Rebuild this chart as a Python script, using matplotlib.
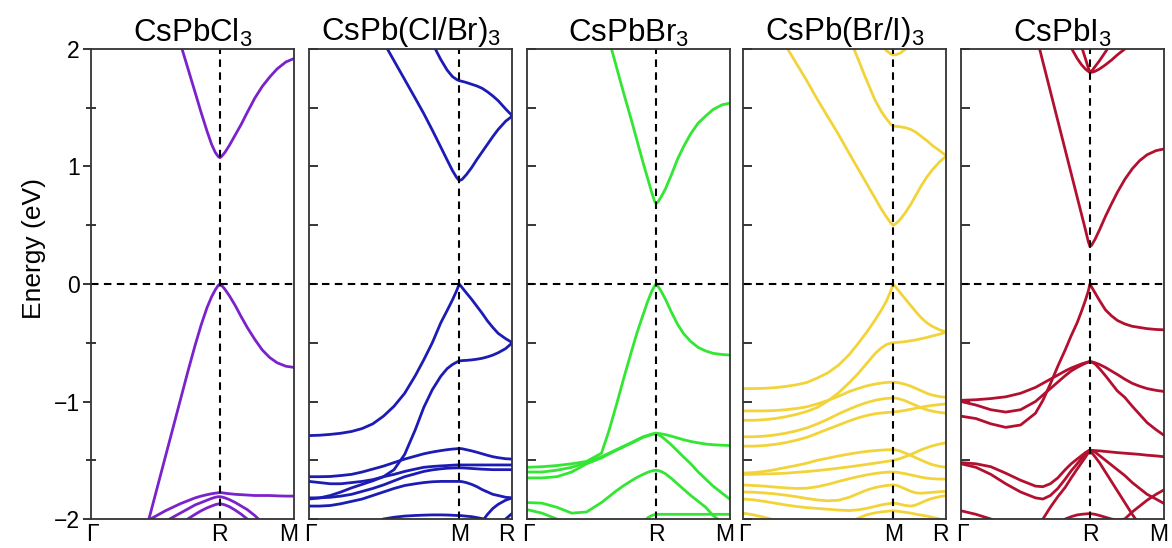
import matplotlib.pyplot as plt
from matplotlib.ticker import MultipleLocator
from matplotlib.transforms import ScaledTranslation

plt.rcParams['font.family'] = ['Liberation Sans', 'DejaVu Sans']
plt.rcParams['mathtext.fontset'] = 'custom'
plt.rcParams['mathtext.rm'] = 'Liberation Sans'

# k-path distances: cubic Γ-R-M (R at index 15), tetragonal Γ-M-R (M at index 17)
k_cubic = [0, 0.1, 0.2, 0.3, 0.4, 0.5, 0.55, 0.6, 0.65, 0.7, 0.74, 0.78, 0.81, 0.835,
           0.855, 0.866, 0.877, 0.9, 0.93, 0.97, 1.01, 1.05, 1.1, 1.15, 1.2, 1.25, 1.31, 1.366]
k_tetra = [0, 0.05, 0.1, 0.15, 0.2, 0.25, 0.3, 0.35, 0.4, 0.45, 0.5, 0.54, 0.58, 0.62,
           0.65, 0.675, 0.695, 0.707, 0.72, 0.74, 0.765, 0.79, 0.815, 0.84, 0.865, 0.89, 0.925, 0.957]

# CsPbCl3 bands (eV)
cl_cb = [4.4, 4.1, 3.75, 3.35, 2.9, 2.47, 2.26, 2.05, 1.84, 1.63, 1.46, 1.30, 1.19, 1.12, 1.085, 1.075, 1.085, 1.12, 1.18, 1.27, 1.36, 1.46, 1.58, 1.68, 1.76, 1.83, 1.89, 1.92]
cl_vb = [-3.4, -3.2, -2.9, -2.42, -1.95, -1.47, -1.23, -0.99, -0.75, -0.52, -0.35, -0.2, -0.11, -0.05, -0.012, 0.0, -0.01, -0.045, -0.10, -0.185, -0.28, -0.37, -0.47, -0.56, -0.625, -0.67, -0.70, -0.71]
cl_a = [-3.0, -2.9, -2.7, -2.4, -2.0, -1.93, -1.90, -1.87, -1.845, -1.82, -1.805, -1.793, -1.785, -1.78, -1.777, -1.775, -1.776, -1.78, -1.785, -1.79, -1.793, -1.796, -1.80, -1.80, -1.80, -1.803, -1.805, -1.805]
cl_b = [-3.0, -2.9, -2.7, -2.5, -2.2, -2.02, -1.985, -1.95, -1.915, -1.88, -1.86, -1.84, -1.825, -1.815, -1.81, -1.81, -1.812, -1.82, -1.835, -1.86, -1.89, -1.92, -1.97, -2.03, -2.08, -2.14, -2.2, -2.3]
cl_c = [-3.0, -2.9, -2.8, -2.6, -2.4, -2.2, -2.12, -2.05, -2.0, -1.96, -1.93, -1.905, -1.89, -1.878, -1.872, -1.87, -1.872, -1.88, -1.895, -1.925, -1.96, -2.0, -2.06, -2.12, -2.2, -2.3, -2.4, -2.5]

# CsPb(Cl/Br)3 bands (eV)
cb_cb1 = [3.18, 3.02, 2.86, 2.7, 2.54, 2.38, 2.22, 2.06, 1.90, 1.74, 1.58, 1.45, 1.31, 1.165, 1.055, 0.965, 0.905, 0.88, 0.89, 0.93, 0.99, 1.06, 1.125, 1.19, 1.255, 1.315, 1.385, 1.43]
cb_cb2 = [3.7, 3.65, 3.6, 3.5, 3.4, 3.3, 3.15, 3.0, 2.75, 2.53, 2.35, 2.21, 2.05, 1.91, 1.82, 1.765, 1.74, 1.73, 1.725, 1.715, 1.70, 1.685, 1.665, 1.635, 1.60, 1.56, 1.49, 1.43]
cb_vb1 = [-1.29, -1.287, -1.28, -1.27, -1.255, -1.23, -1.19, -1.125, -1.04, -0.93, -0.78, -0.645, -0.50, -0.33, -0.225, -0.135, -0.055, 0.0, -0.03, -0.075, -0.13, -0.19, -0.25, -0.315, -0.37, -0.42, -0.465, -0.50]
cb_vb2 = [-1.83, -1.82, -1.80, -1.77, -1.735, -1.705, -1.675, -1.64, -1.58, -1.45, -1.24, -1.05, -0.90, -0.785, -0.72, -0.685, -0.665, -0.655, -0.652, -0.65, -0.646, -0.64, -0.632, -0.62, -0.605, -0.585, -0.55, -0.50]
cb_c1 = [-1.64, -1.64, -1.638, -1.63, -1.62, -1.60, -1.575, -1.55, -1.52, -1.49, -1.465, -1.445, -1.43, -1.418, -1.41, -1.405, -1.402, -1.40, -1.402, -1.41, -1.42, -1.432, -1.445, -1.458, -1.47, -1.478, -1.487, -1.49]
cb_c2 = [-1.68, -1.69, -1.70, -1.70, -1.69, -1.68, -1.665, -1.64, -1.62, -1.595, -1.575, -1.56, -1.553, -1.548, -1.545, -1.542, -1.54, -1.54, -1.54, -1.54, -1.54, -1.54, -1.54, -1.54, -1.54, -1.54, -1.54, -1.54]
cb_c3 = [-1.82, -1.82, -1.815, -1.805, -1.79, -1.765, -1.74, -1.71, -1.675, -1.64, -1.615, -1.595, -1.582, -1.573, -1.568, -1.566, -1.565, -1.565, -1.565, -1.567, -1.57, -1.573, -1.576, -1.578, -1.58, -1.58, -1.58, -1.58]
cb_c4 = [-1.89, -1.89, -1.885, -1.87, -1.85, -1.83, -1.80, -1.77, -1.74, -1.715, -1.70, -1.69, -1.683, -1.68, -1.68, -1.68, -1.68, -1.68, -1.682, -1.69, -1.705, -1.725, -1.75, -1.77, -1.79, -1.80, -1.815, -1.82]
cb_c5 = [-2.6, -2.6, -2.6, -2.6, -2.6, -2.6, -2.6, -2.6, -2.6, -2.6, -2.6, -2.6, -2.6, -2.6, -2.6, -2.6, -2.6, -2.6, -2.5, -2.35, -2.2, -2.1, -2.02, -1.96, -1.91, -1.875, -1.84, -1.82]
cb_c6 = [-2.4, -2.35, -2.3, -2.25, -2.17, -2.1, -2.04, -2.0, -1.985, -1.975, -1.97, -1.967, -1.965, -1.965, -1.966, -1.968, -1.97, -1.97, -1.972, -1.976, -1.98, -1.988, -1.997, -2.01, -2.02, -2.04, -2.07, -2.1]
cb_c7 = [-2.6, -2.6, -2.6, -2.6, -2.6, -2.6, -2.6, -2.6, -2.6, -2.6, -2.6, -2.6, -2.6, -2.6, -2.6, -2.6, -2.6, -2.6, -2.6, -2.6, -2.5, -2.4, -2.3, -2.15, -2.1, -2.05, -2.0, -1.95]

# CsPbBr3 bands (eV)
br_cb = [4.6, 4.3, 3.9, 3.4, 2.77, 2.31, 2.08, 1.85, 1.62, 1.40, 1.215, 1.03, 0.90, 0.79, 0.71, 0.685, 0.695, 0.74, 0.81, 0.93, 1.06, 1.165, 1.28, 1.37, 1.43, 1.485, 1.525, 1.54]
br_vb = [-1.56, -1.555, -1.545, -1.53, -1.51, -1.44, -1.25, -1.03, -0.80, -0.58, -0.41, -0.26, -0.15, -0.07, -0.02, 0.0, -0.015, -0.06, -0.13, -0.24, -0.34, -0.42, -0.49, -0.54, -0.57, -0.59, -0.60, -0.605]
br_b2 = [-1.60, -1.60, -1.585, -1.56, -1.52, -1.47, -1.44, -1.41, -1.38, -1.35, -1.325, -1.30, -1.288, -1.278, -1.272, -1.27, -1.271, -1.275, -1.282, -1.295, -1.31, -1.325, -1.34, -1.352, -1.362, -1.368, -1.372, -1.375]
br_b3 = [-1.65, -1.65, -1.64, -1.60, -1.53, -1.48, -1.447, -1.415, -1.385, -1.355, -1.33, -1.305, -1.293, -1.283, -1.277, -1.275, -1.278, -1.295, -1.325, -1.37, -1.42, -1.47, -1.53, -1.60, -1.66, -1.72, -1.78, -1.835]
br_b4 = [-1.86, -1.865, -1.90, -1.95, -1.94, -1.86, -1.81, -1.76, -1.715, -1.675, -1.645, -1.62, -1.603, -1.592, -1.587, -1.585, -1.587, -1.595, -1.615, -1.655, -1.70, -1.745, -1.80, -1.85, -1.90, -1.97, -2.03, -2.09]
br_b5 = [-3.0, -3.0, -3.0, -3.0, -2.9, -2.7, -2.55, -2.45, -2.3, -2.2, -2.1, -2.03, -1.99, -1.972, -1.963, -1.96, -1.96, -1.96, -1.96, -1.96, -1.96, -1.96, -1.96, -1.96, -1.96, -1.96, -1.96, -1.96]
br_b6 = [-1.92, -1.95, -2.0, -2.1, -2.2, -2.3, -2.35, -2.4, -2.45, -2.5, -2.55, -2.6, -2.65, -2.7, -2.75, -2.8, -2.8, -2.8, -2.8, -2.8, -2.8, -2.8, -2.8, -2.8, -2.8, -2.8, -2.8, -2.8]

# CsPb(Br/I)3 bands (eV)
bi_cb1 = [2.62, 2.48, 2.33, 2.18, 2.03, 1.88, 1.73, 1.57, 1.42, 1.27, 1.11, 0.985, 0.86, 0.735, 0.64, 0.57, 0.52, 0.50, 0.515, 0.55, 0.61, 0.68, 0.76, 0.84, 0.91, 0.97, 1.04, 1.09]
bi_cb2 = [3.9, 3.8, 3.7, 3.55, 3.4, 3.25, 3.1, 2.9, 2.6, 2.33, 2.10, 1.92, 1.74, 1.57, 1.47, 1.405, 1.36, 1.345, 1.342, 1.338, 1.33, 1.315, 1.29, 1.255, 1.22, 1.18, 1.135, 1.09]
bi_cb3 = [3.8, 3.7, 3.6, 3.5, 3.4, 3.3, 3.2, 3.1, 2.9, 2.7, 2.55, 2.42, 2.3, 2.12, 2.04, 1.985, 1.958, 1.95, 1.952, 1.965, 2.0, 2.05, 2.12, 2.2, 2.3, 2.4, 2.5, 2.6]
bi_vb1 = [-0.89, -0.89, -0.888, -0.882, -0.872, -0.858, -0.838, -0.80, -0.755, -0.69, -0.60, -0.51, -0.415, -0.31, -0.225, -0.145, -0.06, 0.0, -0.03, -0.075, -0.13, -0.185, -0.24, -0.29, -0.33, -0.36, -0.39, -0.41]
bi_vb2 = [-1.16, -1.16, -1.155, -1.145, -1.13, -1.11, -1.085, -1.05, -0.995, -0.925, -0.84, -0.765, -0.68, -0.595, -0.545, -0.515, -0.503, -0.50, -0.498, -0.495, -0.49, -0.483, -0.475, -0.465, -0.455, -0.443, -0.427, -0.41]
bi_d1 = [-1.08, -1.08, -1.08, -1.077, -1.07, -1.06, -1.045, -1.02, -0.99, -0.955, -0.915, -0.89, -0.868, -0.852, -0.843, -0.838, -0.836, -0.835, -0.837, -0.843, -0.855, -0.87, -0.89, -0.91, -0.93, -0.945, -0.958, -0.965]
bi_d2 = [-1.30, -1.30, -1.295, -1.285, -1.27, -1.25, -1.225, -1.19, -1.15, -1.105, -1.065, -1.035, -1.01, -0.99, -0.98, -0.974, -0.971, -0.97, -0.972, -0.98, -0.995, -1.015, -1.035, -1.055, -1.07, -1.082, -1.093, -1.10]
bi_d3 = [-1.38, -1.38, -1.375, -1.365, -1.35, -1.33, -1.305, -1.27, -1.235, -1.2, -1.165, -1.14, -1.12, -1.105, -1.098, -1.094, -1.091, -1.09, -1.087, -1.082, -1.075, -1.066, -1.057, -1.048, -1.04, -1.033, -1.026, -1.02]
bi_e1 = [-1.61, -1.605, -1.595, -1.58, -1.562, -1.545, -1.525, -1.50, -1.482, -1.463, -1.447, -1.435, -1.425, -1.418, -1.414, -1.411, -1.41, -1.41, -1.413, -1.422, -1.44, -1.46, -1.48, -1.50, -1.52, -1.537, -1.552, -1.56]
bi_e2 = [-1.62, -1.62, -1.617, -1.614, -1.61, -1.603, -1.596, -1.588, -1.578, -1.567, -1.556, -1.546, -1.536, -1.525, -1.517, -1.51, -1.504, -1.50, -1.495, -1.485, -1.468, -1.45, -1.43, -1.41, -1.393, -1.378, -1.362, -1.35]
bi_e3 = [-1.71, -1.715, -1.72, -1.728, -1.735, -1.74, -1.738, -1.725, -1.705, -1.68, -1.657, -1.64, -1.625, -1.613, -1.606, -1.602, -1.60, -1.60, -1.602, -1.607, -1.615, -1.625, -1.635, -1.645, -1.652, -1.657, -1.66, -1.66]
bi_e4 = [-1.77, -1.772, -1.778, -1.786, -1.797, -1.81, -1.825, -1.838, -1.845, -1.84, -1.815, -1.785, -1.755, -1.733, -1.722, -1.715, -1.711, -1.71, -1.713, -1.725, -1.745, -1.765, -1.778, -1.78, -1.777, -1.773, -1.768, -1.765]
bi_e5 = [-1.83, -1.837, -1.85, -1.865, -1.88, -1.893, -1.903, -1.91, -1.917, -1.924, -1.928, -1.922, -1.91, -1.893, -1.88, -1.872, -1.867, -1.865, -1.867, -1.875, -1.885, -1.89, -1.88, -1.86, -1.84, -1.825, -1.81, -1.80]
bi_e6 = [-1.95, -1.965, -1.985, -2.01, -2.04, -2.08, -2.12, -2.16, -2.2, -2.25, -2.3, -2.3, -2.3, -2.3, -2.3, -2.3, -2.3, -2.3, -2.3, -2.3, -2.3, -2.3, -2.3, -2.3, -2.3, -2.3, -2.3, -2.3]
bi_e7 = [-2.6, -2.55, -2.5, -2.45, -2.4, -2.35, -2.3, -2.25, -2.2, -2.1, -2.04, -1.995, -1.965, -1.948, -1.94, -1.935, -1.931, -1.93, -1.932, -1.937, -1.943, -1.95, -1.96, -1.967, -1.975, -1.985, -2.0, -2.03]

# CsPbI3 bands (eV)
i_cb1 = [4.6, 4.3, 3.9, 3.3, 2.64, 2.14, 1.89, 1.64, 1.39, 1.14, 0.94, 0.74, 0.59, 0.465, 0.36, 0.32, 0.33, 0.38, 0.46, 0.575, 0.68, 0.78, 0.89, 0.98, 1.05, 1.10, 1.135, 1.15]
i_cb2 = [4.0, 3.8, 3.6, 3.4, 3.2, 2.9, 2.7, 2.5, 2.3, 2.12, 2.01, 1.92, 1.865, 1.83, 1.81, 1.80, 1.802, 1.81, 1.83, 1.865, 1.905, 1.95, 2.0, 2.06, 2.12, 2.2, 2.3, 2.4]
i_cb3 = [4.2, 4.0, 3.8, 3.6, 3.4, 3.1, 2.95, 2.8, 2.65, 2.5, 2.32, 2.15, 2.02, 1.92, 1.84, 1.80, 1.81, 1.85, 1.90, 1.975, 2.05, 2.12, 2.2, 2.3, 2.4, 2.5, 2.6, 2.7]
i_vb = [-1.125, -1.145, -1.19, -1.22, -1.20, -1.10, -0.99, -0.85, -0.70, -0.56, -0.44, -0.33, -0.23, -0.14, -0.06, 0.0, -0.025, -0.075, -0.14, -0.22, -0.27, -0.31, -0.34, -0.36, -0.37, -0.38, -0.387, -0.39]
i_a = [-0.99, -0.985, -0.975, -0.96, -0.93, -0.88, -0.845, -0.81, -0.775, -0.74, -0.715, -0.695, -0.68, -0.67, -0.663, -0.66, -0.662, -0.67, -0.685, -0.71, -0.74, -0.77, -0.81, -0.845, -0.87, -0.89, -0.905, -0.915]
i_b = [-1.0, -1.03, -1.07, -1.09, -1.07, -1.0, -0.945, -0.89, -0.835, -0.78, -0.74, -0.71, -0.69, -0.675, -0.665, -0.66, -0.665, -0.68, -0.72, -0.78, -0.845, -0.91, -0.965, -1.04, -1.11, -1.18, -1.24, -1.29]
i_l1 = [-1.52, -1.53, -1.555, -1.61, -1.67, -1.72, -1.725, -1.70, -1.65, -1.58, -1.53, -1.49, -1.46, -1.435, -1.42, -1.415, -1.415, -1.418, -1.42, -1.425, -1.43, -1.435, -1.44, -1.445, -1.45, -1.457, -1.463, -1.47]
i_l2 = [-1.53, -1.56, -1.62, -1.70, -1.77, -1.82, -1.83, -1.80, -1.74, -1.66, -1.59, -1.53, -1.485, -1.45, -1.425, -1.415, -1.418, -1.43, -1.46, -1.50, -1.54, -1.58, -1.63, -1.69, -1.74, -1.79, -1.83, -1.87]
i_l3 = [-3.0, -2.9, -2.8, -2.6, -2.35, -2.1, -2.0, -1.90, -1.81, -1.73, -1.65, -1.575, -1.52, -1.475, -1.435, -1.415, -1.435, -1.47, -1.52, -1.60, -1.68, -1.76, -1.86, -1.96, -2.05, -2.15, -2.25, -2.35]
i_l4 = [-3.0, -3.0, -3.0, -2.8, -2.6, -2.4, -2.25, -2.15, -2.07, -2.0, -1.98, -1.965, -1.96, -1.957, -1.955, -1.955, -1.956, -1.96, -1.97, -1.985, -2.0, -2.01, -2.0, -1.94, -1.89, -1.84, -1.79, -1.75]
i_l5 = [-1.93, -1.96, -2.0, -2.05, -2.1, -2.2, -2.25, -2.3, -2.35, -2.4, -2.45, -2.5, -2.5, -2.5, -2.5, -2.5, -2.5, -2.5, -2.5, -2.5, -2.5, -2.5, -2.5, -2.5, -2.5, -2.5, -2.5, -2.5]

titles = ['CsPbCl$_\\mathregular{3}$', 'CsPb(Cl/Br)$_\\mathregular{3}$', 'CsPbBr$_\\mathregular{3}$',
          'CsPb(Br/I)$_\\mathregular{3}$', 'CsPbI$_\\mathregular{3}$']
colors = ['#7a22cc', '#1c1cb4', '#33e633', '#f2d43a', '#b3102f']
cubic_labels = ['Γ', 'R', 'M']
tetra_labels = ['Γ', 'M', 'R']

panels = [
    (k_cubic, 15, cubic_labels, [cl_cb, cl_vb, cl_a, cl_b, cl_c]),
    (k_tetra, 17, tetra_labels, [cb_cb1, cb_cb2, cb_vb1, cb_vb2, cb_c1, cb_c2, cb_c3,
                                 cb_c4, cb_c5, cb_c6, cb_c7]),
    (k_cubic, 15, cubic_labels, [br_cb, br_vb, br_b2, br_b3, br_b4, br_b5, br_b6]),
    (k_tetra, 17, tetra_labels, [bi_cb1, bi_cb2, bi_cb3, bi_vb1, bi_vb2, bi_d1, bi_d2, bi_d3,
                                 bi_e1, bi_e2, bi_e3, bi_e4, bi_e5, bi_e6, bi_e7]),
    (k_cubic, 15, cubic_labels, [i_cb1, i_cb2, i_cb3, i_vb, i_a, i_b, i_l1, i_l2, i_l3, i_l4, i_l5]),
]

lefts = [0.0776, 0.2637, 0.4497, 0.6340, 0.8200]
fig = plt.figure(figsize=(11.72, 5.48), dpi=100)

for i, (k, mid, labels, bands) in enumerate(panels):
    ax = fig.add_axes([lefts[i], 0.0529, 0.1735, 0.8577])
    for band in bands:
        ax.plot(k, band, color=colors[i], lw=2.0, solid_capstyle='round',
                solid_joinstyle='round')
    ax.axhline(0, color='black', lw=1.5, dashes=(3.6, 2.6))
    ax.axvline(k[mid], color='black', lw=1.5, dashes=(3.6, 2.6))
    ax.set_xlim(k[0], k[-1])
    ax.set_ylim(-2, 2)
    ax.set_xticks([k[0], k[mid], k[-1]], labels)
    ax.tick_params(axis='x', length=0, labelsize=16.5, pad=3)
    # end labels sit slightly inward, as in the original
    xl = ax.get_xticklabels()
    xl[0].set_transform(xl[0].get_transform() + ScaledTranslation(1 / 72, 0, fig.dpi_scale_trans))
    xl[-1].set_transform(xl[-1].get_transform() + ScaledTranslation(-4 / 72, 0, fig.dpi_scale_trans))
    ax.yaxis.set_major_locator(MultipleLocator(1))
    ax.yaxis.set_minor_locator(MultipleLocator(0.5))
    if i == 0:
        ax.tick_params(axis='y', which='major', direction='out', length=6,
                       width=1.1, labelsize=16.5, pad=2)
        ax.tick_params(axis='y', which='minor', direction='inout', length=7, width=1.1)
        ax.set_ylabel('Energy (eV)', fontsize=19)
        ax.yaxis.set_label_coords(-0.22, 0.575)
    else:
        ax.tick_params(axis='y', which='both', direction='in', length=6.5,
                       width=1.1, labelleft=False)
    for s in ax.spines.values():
        s.set_color('#333333')
        s.set_linewidth(1.3)
    ax.set_title(titles[i], fontsize=22.5, pad=5)

fig.savefig('out.png', dpi=100)
